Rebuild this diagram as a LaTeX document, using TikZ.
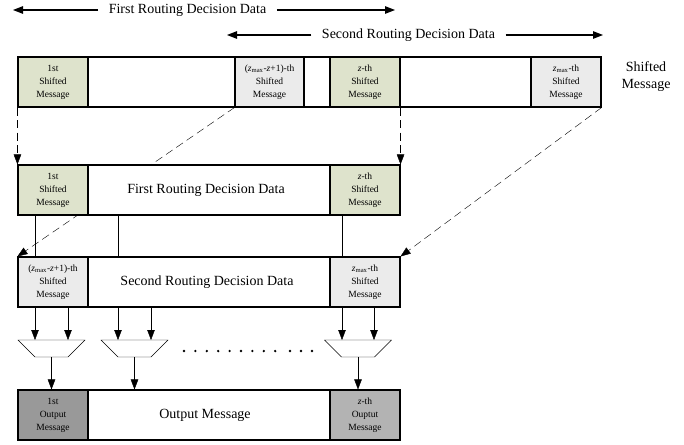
\documentclass[tikz,border=0pt]{standalone}
\usepackage{fontspec}
\setmainfont{Liberation Serif}
\usetikzlibrary{arrows.meta,backgrounds}
\definecolor{cgreen}{HTML}{DEE3CC}
\definecolor{cgray}{HTML}{EBEBEB}
\definecolor{cdark}{HTML}{999999}
\definecolor{cmid}{HTML}{B3B3B3}
\newcommand\cellfont{\fontsize{9.5}{13}\selectfont}
\newcommand\bigfont{\fontsize{14}{17}\selectfont}
\newcommand\zi{{\itshape z}}
\tikzset{
  rowbox/.style={draw, fill=white, inner sep=0pt, minimum height=50pt},
  cellbox/.style={draw, inner sep=0pt, minimum width=70pt, minimum height=50pt, align=center, font=\cellfont},
  bigtext/.style={font=\bigfont, inner sep=0pt},
  arr/.style={-{Triangle[length=10pt,width=7.5pt]}},
  dasharr/.style={-{Triangle[length=10pt,width=7.5pt]}, dash pattern=on 8pt off 4.5pt},
  muxbox/.style={draw}
}
\begin{document}
\begin{tikzpicture}[x=1pt,y=-1pt,line width=1.1pt]
\useasboundingbox (0,0) rectangle (684,444);

% header arrows
\node[bigtext, inner xsep=10pt] (h1) at (187.5,10) {First Routing Decision Data};
\coordinate (h1l) at (13,10);
\coordinate (h1r) at (395,10);
\draw[arr] (h1.west) -- (h1l);
\draw[arr] (h1.east) -- (h1r);
\node[bigtext, inner xsep=10pt] (h2) at (408.5,35) {Second Routing Decision Data};
\coordinate (h2l) at (227,35);
\coordinate (h2r) at (603,35);
\draw[arr] (h2.west) -- (h2l);
\draw[arr] (h2.east) -- (h2r);

% top row: shifted messages
\node[rowbox, minimum width=583pt] (top) at (309.5,82) {};
\node[cellbox, fill=cgreen] (t1) at (53,82) {1st\\Shifted\\Message};
\node[cellbox, fill=cgray, minimum width=69pt] (t2) at (269.5,82) {(\zi\textsubscript{max}-\zi+1)-th\\Shifted\\Message};
\node[cellbox, fill=cgreen] (t3) at (365,82) {\zi-th\\Shifted\\Message};
\node[cellbox, fill=cgray] (t4) at (566,82) {\zi\textsubscript{max}-th\\Shifted\\Message};
\node[bigtext, align=center] (sm) at (646,77) {Shifted\\Message};

% first routing decision data
\node[rowbox, minimum width=382pt] (r1) at (209,190) {};
\node[cellbox, fill=cgreen] (a1) at (53,190) {1st\\Shifted\\Message};
\node[cellbox, fill=cgreen] (a2) at (365,190) {\zi-th\\Shifted\\Message};
\node[bigtext] (r1t) at (206,190) {First Routing Decision Data};

% second routing decision data
\node[rowbox, minimum width=382pt] (r2) at (209,282) {};
\node[cellbox, fill=cgray] (b1) at (53,282) {(\zi\textsubscript{max}-\zi+1)-th\\Shifted\\Message};
\node[cellbox, fill=cgray] (b2) at (365,282) {\zi\textsubscript{max}-th\\Shifted\\Message};
\node[bigtext] (r2t) at (207,282) {Second Routing Decision Data};

% output message
\node[rowbox, minimum width=382pt] (out) at (209,415) {};
\node[cellbox, fill=cdark] (o1) at (53,415) {1st\\Output\\Message};
\node[cellbox, fill=cmid] (o2) at (365,415) {\zi-th\\Ouptut\\Message};
\node[bigtext] (outt) at (205,415) {Output Message};

% dashed shift arrows (behind the rows)
\begin{pgfonlayer}{background}
\draw[dasharr] (t1.south west) -- (a1.north west);
\draw[dasharr] (t3.south east) -- (a2.north east);
\draw[dasharr] (t2.south west) -- (b1.north west);
\draw[dasharr] (t4.south east) -- (b2.north east);
\end{pgfonlayer}

% column positions
\coordinate (xa) at (35,0);
\coordinate (xb) at (68,0);
\coordinate (xc) at (118,0);
\coordinate (xd) at (151,0);
\coordinate (xe) at (342,0);
\coordinate (xf) at (374,0);

% links between the two routing rows
\draw (r1.south -| xa) -- (r2.north -| xa);
\draw (r1.south -| xc) -- (r2.north -| xc);
\draw (r1.south -| xe) -- (r2.north -| xe);

% multiplexers
\coordinate (m1t) at (51.5,340);
\coordinate (m1b) at (51.5,357);
\coordinate (m2t) at (134.5,340);
\coordinate (m2b) at (134.5,357);
\coordinate (m3t) at (358,340);
\coordinate (m3b) at (358,357);
\foreach \m in {m1,m2,m3}{
  \draw[muxbox] ([xshift=-33.5pt]\m t) -- ([xshift=33.5pt]\m t) -- ([xshift=16.5pt]\m b) -- ([xshift=-16.5pt]\m b) -- cycle;
}

% inputs to multiplexers
\draw[arr] (r2.south -| xa) -- (m1t -| xa);
\draw[arr] (r2.south -| xb) -- (m1t -| xb);
\draw[arr] (r2.south -| xc) -- (m2t -| xc);
\draw[arr] (r2.south -| xd) -- (m2t -| xd);
\draw[arr] (r2.south -| xe) -- (m3t -| xe);
\draw[arr] (r2.south -| xf) -- (m3t -| xf);

% outputs of multiplexers
\draw[arr] (m1b) -- (out.north -| m1b);
\draw[arr] (m2b) -- (out.north -| m2b);
\draw[arr] (m3b) -- (out.north -| m3b);

% dots
\foreach \i in {0,...,8}{
  \fill (184+11.4*\i,351) circle (1.3pt);
}
\foreach \i in {0,1,2}{
  \fill (290+11*\i,351) circle (1.3pt);
}
\end{tikzpicture}
\end{document}
